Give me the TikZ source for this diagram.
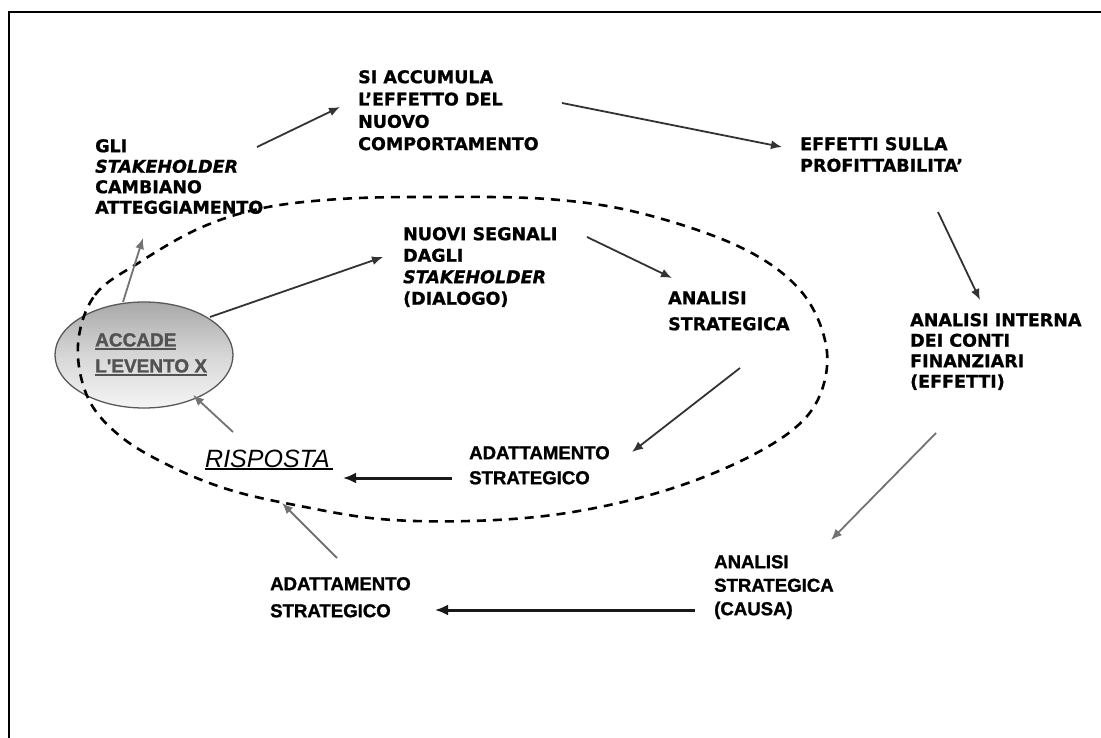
\documentclass[tikz,border=0pt]{standalone}
\usepackage{fontspec}
\usetikzlibrary{arrows.meta,shapes.geometric}
\newfontfamily\vfont{DejaVu Sans}[BoldFeatures={FakeBold=0.9},BoldItalicFeatures={FakeBold=0.9}]
\newfontfamily\afont{Liberation Sans}[BoldFeatures={FakeBold=1.3}]
% underline drawn as a rule of the text's width
\newcommand\ulbar[2][0pt]{\setbox0=\hbox{#2}\rlap{\rule[-3.2pt]{\dimexpr\wd0+#1\relax}{2pt}}\box0}
\begin{document}
\begin{tikzpicture}[x=1pt,y=-1pt,
  wide/.style={inner sep=0pt, anchor=north west, align=left, text=black,
    font=\vfont\bfseries\fontsize{17.5}{#1}\selectfont},
  wide/.default=21.5,
  narrow/.style={inner sep=0pt, anchor=north west, align=left, text=black,
    font=\afont\bfseries\fontsize{18.6}{#1}\selectfont},
  narrow/.default=25,
  arr/.style={draw=black!80, line width=1.8pt, -{Latex[length=11pt,width=9pt]}},
  arrsoft/.style={arr, draw=black!55},
  arrbold/.style={draw=black!90, line width=3pt, -{Latex[length=13pt,width=11pt]}},
  loopline/.style={draw=black, line width=2.6pt, dash pattern=on 9pt off 7pt},
]
\useasboundingbox (0,0) rectangle (1101,738);
\fill[white] (0,0) rectangle (1101,738);
% frame
\draw[line width=2.6pt] (9,738) -- (9,12) -- (1101,12);

% the event
\node[ellipse, draw=black!65, line width=1.3pt, minimum width=178pt, minimum height=106pt,
  inner sep=0pt, top color=black!34, bottom color=black!4, middle color=black!16] (evt) at (144,355) {};

% dashed feedback loop
\draw[loopline] plot[smooth cycle, tension=0.6] coordinates {
  (78,345) (95,295) (140,262) (200,228) (263,208) (340,199) (430,197) (547,199)
  (640,213) (740,247) (800,290) (826,345) (820,395) (790,432) (728,467) (650,495)
  (560,514) (470,521) (380,519) (300,506) (230,490) (170,466) (120,436) (88,398)};

\node[inner sep=0pt, anchor=north west, align=left, text=black!68,
  font=\afont\bfseries\fontsize{19}{26}\selectfont] (acc) at (95,333)
  {\ulbar{ACCADE}\\\ulbar{L'EVENTO X}};

% texts
\node[wide=20.5] (gli) at (95,139) {GLI\\{\itshape STAKEHOLDER}\\CAMBIANO\\ATTEGGIAMENTO};
\node[wide=22.3] (si) at (358,70) {SI ACCUMULA\\L’EFFETTO DEL\\NUOVO\\COMPORTAMENTO};
\node[wide=21.5] (eff) at (800,137) {EFFETTI SULLA\\PROFITTABILITA’};
\node[wide=21.5] (nuovi) at (403,227) {NUOVI SEGNALI\\DAGLI\\{\itshape STAKEHOLDER}\\(DIALOGO)};
\node[wide=26] (anm) at (668,291) {ANALISI\\STRATEGICA};
\node[wide=20.5] (int) at (910,313) {ANALISI INTERNA\\DEI CONTI\\FINANZIARI\\(EFFETTI)};
\node[narrow=25] (adm) at (469,446) {ADATTAMENTO\\STRATEGICO};
\node[narrow=27] (adb) at (270,577) {ADATTAMENTO\\STRATEGICO};
\node[narrow=23.5] (causa) at (714,555) {ANALISI\\STRATEGICA\\(CAUSA)};
\node[inner sep=0pt, anchor=base west, text=black,
  font=\afont\itshape\fontsize{25}{30}\selectfont] (risp) at (205,467) {\ulbar[3pt]{RISPOSTA}};

% connector ends
\coordinate (evtA) at (123,302);   \coordinate (gliIn) at (143,238);
\coordinate (gliOut) at (257,147); \coordinate (siIn) at (340,107);
\coordinate (siOut) at (562,103);  \coordinate (effIn) at (782,147);
\coordinate (effOut) at (938,212); \coordinate (intIn) at (980,300);
\coordinate (intOut) at (936,433); \coordinate (causaIn) at (831,540);
\coordinate (causaOut) at (695,610); \coordinate (adbIn) at (435,610);
\coordinate (adbOut) at (337,558); \coordinate (loopHit) at (282,503);
\coordinate (evtB) at (210,317);   \coordinate (nuoviIn) at (383,257);
\coordinate (nuoviOut) at (587,237); \coordinate (anmIn) at (672,278);
\coordinate (anmOut) at (740,368); \coordinate (admIn) at (632,452);
\coordinate (admOut) at (452,478); \coordinate (rispIn) at (343,478);
\coordinate (rispOut) at (233,432); \coordinate (evtC) at (193,395);

% outer cycle
\draw[arrsoft] (evtA) -- (gliIn);
\draw[arr] (gliOut) -- (siIn);
\draw[arr] (siOut) -- (effIn);
\draw[arr] (effOut) -- (intIn);
\draw[arrsoft] (intOut) -- (causaIn);
\draw[arrbold] (causaOut) -- (adbIn);
\draw[arrsoft] (adbOut) -- (loopHit);
% inner cycle
\draw[arr] (evtB) -- (nuoviIn);
\draw[arr] (nuoviOut) -- (anmIn);
\draw[arr] (anmOut) -- (admIn);
\draw[arrbold] (admOut) -- (rispIn);
\draw[arrsoft] (rispOut) -- (evtC);
\end{tikzpicture}
\end{document}
